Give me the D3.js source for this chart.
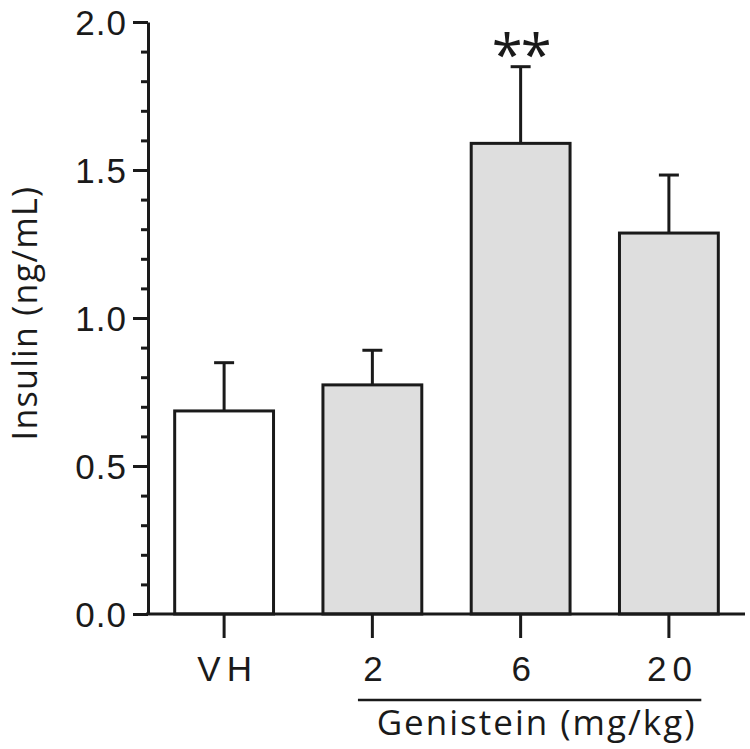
<!DOCTYPE html>
<style>
body { margin: 0; background: #fff; }
svg { font-family: "Open Sans", sans-serif; }
</style>
<svg width="750" height="749"></svg>
<script src="https://d3js.org/d3.v7.min.js"></script>
<script>

var groups = ["VH", "2", "6", "20"];
var means = [0.686, 0.774, 1.590, 1.287];
var errors = [0.163, 0.117, 0.259, 0.196];
var fills = ["#ffffff", "#dedede", "#dedede", "#dedede"];
var signif = ["", "", "**", ""];
var yTicks = [0, 0.5, 1.0, 1.5, 2.0];

var svg = d3.select("svg");
var ink = "#1a1a1a";

var x = d3.scaleBand()
    .domain(groups)
    .range([148, 745])
    .paddingInner(1 / 3)
    .paddingOuter(0.18);

var y = d3.scaleLinear()
    .domain([0, 2])
    .range([614, 22]);

var data = groups.map(function(g, i) {
  return { name: g, mean: means[i], err: errors[i], fill: fills[i], sig: signif[i] };
});

// minor ticks
var minor = d3.range(0, 2.0001, 0.1).filter(function(v) { return Math.abs(v * 2 - Math.round(v * 2)) > 1e-6; });
svg.append("g")
    .attr("transform", "translate(148,0)")
    .call(d3.axisLeft(y).tickValues(minor).tickSize(7).tickFormat(""))
    .call(function(g) { g.select(".domain").remove(); })
    .selectAll("line").attr("stroke", ink).attr("stroke-width", 3);

var yAxis = svg.append("g")
    .attr("transform", "translate(148,0)")
    .call(d3.axisLeft(y).tickValues(yTicks).tickSize(15).tickSizeOuter(0).tickPadding(6).tickFormat(d3.format(".1f")));
yAxis.select(".domain").attr("stroke", ink).attr("stroke-width", 3);
yAxis.selectAll("line").attr("stroke", ink).attr("stroke-width", 3);
yAxis.selectAll("text")
    .attr("fill", ink)
    .style("font-size", "35px")
    .style("letter-spacing", "1px")
    .attr("dy", "0.36em");

// bars
var bar = svg.append("g").selectAll("g")
    .data(data)
  .enter().append("g");

bar.append("line")
    .attr("x1", function(d) { return x(d.name) + x.bandwidth() / 2; })
    .attr("x2", function(d) { return x(d.name) + x.bandwidth() / 2; })
    .attr("y1", function(d) { return y(d.mean); })
    .attr("y2", function(d) { return y(d.mean + d.err); })
    .attr("stroke", ink).attr("stroke-width", 3);

bar.append("line")
    .attr("x1", function(d) { return x(d.name) + x.bandwidth() / 2 - 10; })
    .attr("x2", function(d) { return x(d.name) + x.bandwidth() / 2 + 10; })
    .attr("y1", function(d) { return y(d.mean + d.err); })
    .attr("y2", function(d) { return y(d.mean + d.err); })
    .attr("stroke", ink).attr("stroke-width", 3);

bar.append("rect")
    .attr("x", function(d) { return x(d.name); })
    .attr("y", function(d) { return y(d.mean); })
    .attr("width", x.bandwidth())
    .attr("height", function(d) { return y(0) - y(d.mean); })
    .attr("fill", function(d) { return d.fill; })
    .attr("stroke", ink).attr("stroke-width", 3);

bar.append("text")
    .attr("x", function(d) { return x(d.name) + x.bandwidth() / 2; })
    .attr("y", function(d) { return y(d.mean + d.err) + 8; })
    .attr("text-anchor", "middle")
    .attr("fill", ink)
    .style("font-size", "56px")
    .style("letter-spacing", "-2px")
    .text(function(d) { return d.sig; });

// x axis
var xAxis = svg.append("g")
    .attr("transform", "translate(0,614)")
    .call(d3.axisBottom(x).tickSize(24).tickSizeOuter(0).tickPadding(18));
xAxis.select(".domain").attr("stroke", ink).attr("stroke-width", 3).attr("d", "M146,0H745");
xAxis.selectAll("line").attr("stroke", ink).attr("stroke-width", 3);
xAxis.selectAll("text")
    .attr("fill", ink)
    .attr("dx", "0.1em")
    .style("font-size", "35px")
    .style("letter-spacing", "6px");

// genistein bracket
var gx0 = x("2") + 35, gx1 = x("20") + x.bandwidth() - 17;
svg.append("line")
    .attr("x1", gx0).attr("x2", gx1)
    .attr("y1", 700).attr("y2", 700)
    .attr("stroke", ink).attr("stroke-width", 2.5);
svg.append("text")
    .attr("x", (gx0 + gx1) / 2 + 7)
    .attr("y", 735)
    .attr("text-anchor", "middle")
    .attr("fill", ink)
    .style("font-size", "35px")
    .style("letter-spacing", "2px")
    .text("Genistein (mg/kg)");

// y label
svg.append("text")
    .attr("transform", "translate(37,313) rotate(-90)")
    .attr("text-anchor", "middle")
    .attr("fill", ink)
    .style("font-size", "34px")
    .style("letter-spacing", "1.3px")
    .text("Insulin (ng/mL)");

</script>
